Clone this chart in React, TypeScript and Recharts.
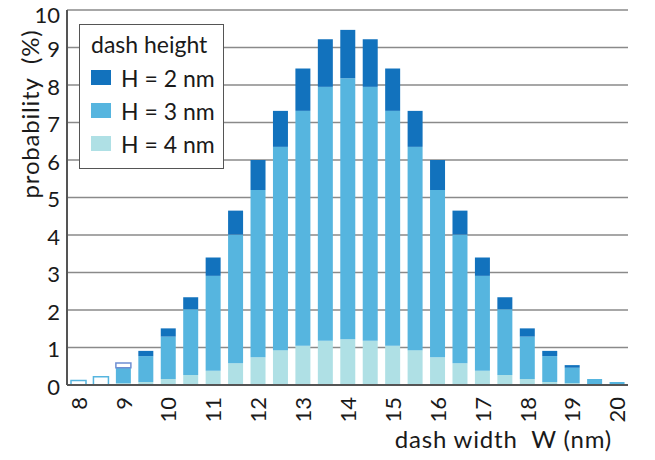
import React from 'react';
import { BarChart, Bar, XAxis, YAxis, CartesianGrid, Legend, Cell } from 'recharts';

const widths = [8, 8.5, 9, 9.5, 10, 10.5, 11, 11.5, 12, 12.5, 13, 13.5, 14, 14.5, 15, 15.5, 16, 16.5, 17, 17.5, 18, 18.5, 19, 19.5, 20];
const h4 = [0, 0, 0.05, 0.08, 0.16, 0.27, 0.38, 0.58, 0.74, 0.93, 1.05, 1.18, 1.22, 1.18, 1.05, 0.93, 0.74, 0.58, 0.38, 0.27, 0.16, 0.08, 0.05, 0, 0];
const h3 = [0.12, 0.22, 0.41, 0.69, 1.13, 1.75, 2.53, 3.43, 4.46, 5.42, 6.26, 6.77, 6.96, 6.77, 6.26, 5.42, 4.46, 3.43, 2.53, 1.75, 1.13, 0.69, 0.41, 0.16, 0.08];
const h2 = [0, 0, 0.13, 0.14, 0.22, 0.32, 0.49, 0.64, 0.8, 0.96, 1.13, 1.27, 1.29, 1.27, 1.13, 0.96, 0.8, 0.64, 0.49, 0.32, 0.22, 0.14, 0.07, 0, 0];
const yTicks = [0, 1, 2, 3, 4, 5, 6, 7, 8, 9, 10];
const seriesNames = ['H = 2 nm', 'H = 3 nm', 'H = 4 nm'];
const legendTitle = 'dash height';
const yTitle = 'probability  (%)';
const xTitle = 'dash width  W (nm)';

const data = widths.map((w, i) => ({ w: String(w), h2: h2[i], h3: h3[i], h4: h4[i] }));

const C2 = '#1272bd';
const C3 = '#56b5df';
const C4 = '#afe0e5';
const seriesColors = [C2, C3, C4];
const FONT = 'Lato, "Open Sans", sans-serif';
const TEXT = '#1a1a1a';
const FRAME = '#555555';
const GRID = '#8a8a8a';
const hollowH3 = new Set([0, 1]);
const hollowH2 = new Set([2]);

const XTick = (props: any) => {
  const { x, y, payload } = props;
  const v = Number(payload.value);
  if (!Number.isInteger(v)) return <g />;
  return (
    <text
      x={x}
      y={y}
      transform={`rotate(-90 ${x} ${y})`}
      textAnchor="end"
      dominantBaseline="central"
      fontSize={22}
      fontFamily={FONT}
      fill={TEXT}
    >
      {payload.value}
    </text>
  );
};

const YTitle = (props: any) => {
  const vb = props.viewBox || { x: 0, y: 10 };
  const cx = vb.x + 29;
  const cy = vb.y + 104;
  return (
    <text
      x={cx}
      y={cy}
      transform={`rotate(-90 ${cx} ${cy})`}
      textAnchor="middle"
      dominantBaseline="central"
      fontSize={24}
      letterSpacing={0.8}
      fontFamily={FONT}
      fill={TEXT}
      style={{ whiteSpace: 'pre' }}
    >
      {yTitle}
    </text>
  );
};

const XTitle = (props: any) => {
  const vb = props.viewBox || { x: 67, y: 385, width: 561 };
  return (
    <text
      x={vb.x + vb.width - 16}
      y={vb.y + 63}
      textAnchor="end"
      fontSize={24}
      letterSpacing={0.8}
      fontFamily={FONT}
      fill={TEXT}
      style={{ whiteSpace: 'pre' }}
    >
      {xTitle}
    </text>
  );
};

const LegendContent = () => (
  <div
    style={{
      boxSizing: 'border-box',
      width: 145,
      height: 145,
      border: `1.5px solid ${FRAME}`,
      background: '#fff',
      fontFamily: FONT,
      fontSize: 23,
      color: TEXT,
      paddingTop: 3,
      paddingLeft: 11,
    }}
  >
    <div style={{ height: 33, lineHeight: '33px', whiteSpace: 'nowrap' }}>{legendTitle}</div>
    {seriesNames.map((n, i) => (
      <div key={n} style={{ height: 33, display: 'flex', alignItems: 'center', whiteSpace: 'nowrap' }}>
        <span style={{ display: 'inline-block', width: 20, height: 15, background: seriesColors[i], marginRight: 10 }} />
        <span>{n}</span>
      </div>
    ))}
  </div>
);

export default function App() {
  return (
    <div style={{ position: 'absolute', left: 0, top: 0, width: 655, height: 460, background: '#fff' }}>
      <BarChart
        width={655}
        height={460}
        data={data}
        margin={{ top: 10, right: 27, left: 0, bottom: 15 }}
        barCategoryGap={0}
      >
        <CartesianGrid vertical={false} stroke={GRID} strokeWidth={1.5} />
        <XAxis
          dataKey="w"
          type="category"
          interval={0}
          height={60}
          tickSize={0}
          tickMargin={12}
          tickLine={false}
          axisLine={{ stroke: FRAME, strokeWidth: 2 }}
          tick={<XTick />}
          label={{ content: <XTitle /> } as any}
        />
        <XAxis
          xAxisId="top"
          dataKey="w"
          orientation="top"
          height={0}
          tick={false}
          tickLine={false}
          axisLine={{ stroke: FRAME, strokeWidth: 2 }}
        />
        <YAxis
          type="number"
          domain={[0, 10]}
          ticks={yTicks}
          width={67}
          tickSize={0}
          tickMargin={7}
          tickLine={false}
          axisLine={{ stroke: FRAME, strokeWidth: 2 }}
          tick={{ fontSize: 22, fontFamily: FONT, fill: TEXT, dy: 2 }}
          label={{ content: <YTitle /> } as any}
        />
        <YAxis
          yAxisId="right"
          orientation="right"
          width={0}
          domain={[0, 10]}
          tick={false}
          tickLine={false}
          axisLine={{ stroke: FRAME, strokeWidth: 2 }}
        />
        <Legend
          layout="vertical"
          align="center"
          verticalAlign="middle"
          wrapperStyle={{ left: 79, top: 24, width: 145, height: 145 }}
          content={<LegendContent />}
        />
        <Bar dataKey="h4" name={seriesNames[2]} stackId="a" fill={C4} barSize={15} isAnimationActive={false} />
        <Bar dataKey="h3" name={seriesNames[1]} stackId="a" fill={C3} barSize={15} isAnimationActive={false}>
          {data.map((d, i) => (
            <Cell
              key={`c3-${i}`}
              fill={hollowH3.has(i) ? '#ffffff' : C3}
              stroke={hollowH3.has(i) ? C3 : 'none'}
              strokeWidth={hollowH3.has(i) ? 1.5 : 0}
            />
          ))}
        </Bar>
        <Bar dataKey="h2" name={seriesNames[0]} stackId="a" fill={C2} barSize={15} isAnimationActive={false}>
          {data.map((d, i) => (
            <Cell
              key={`c2-${i}`}
              fill={hollowH2.has(i) ? '#ffffff' : C2}
              stroke={hollowH2.has(i) ? '#6f8fd3' : 'none'}
              strokeWidth={hollowH2.has(i) ? 1.5 : 0}
            />
          ))}
        </Bar>
      </BarChart>
    </div>
  );
}
